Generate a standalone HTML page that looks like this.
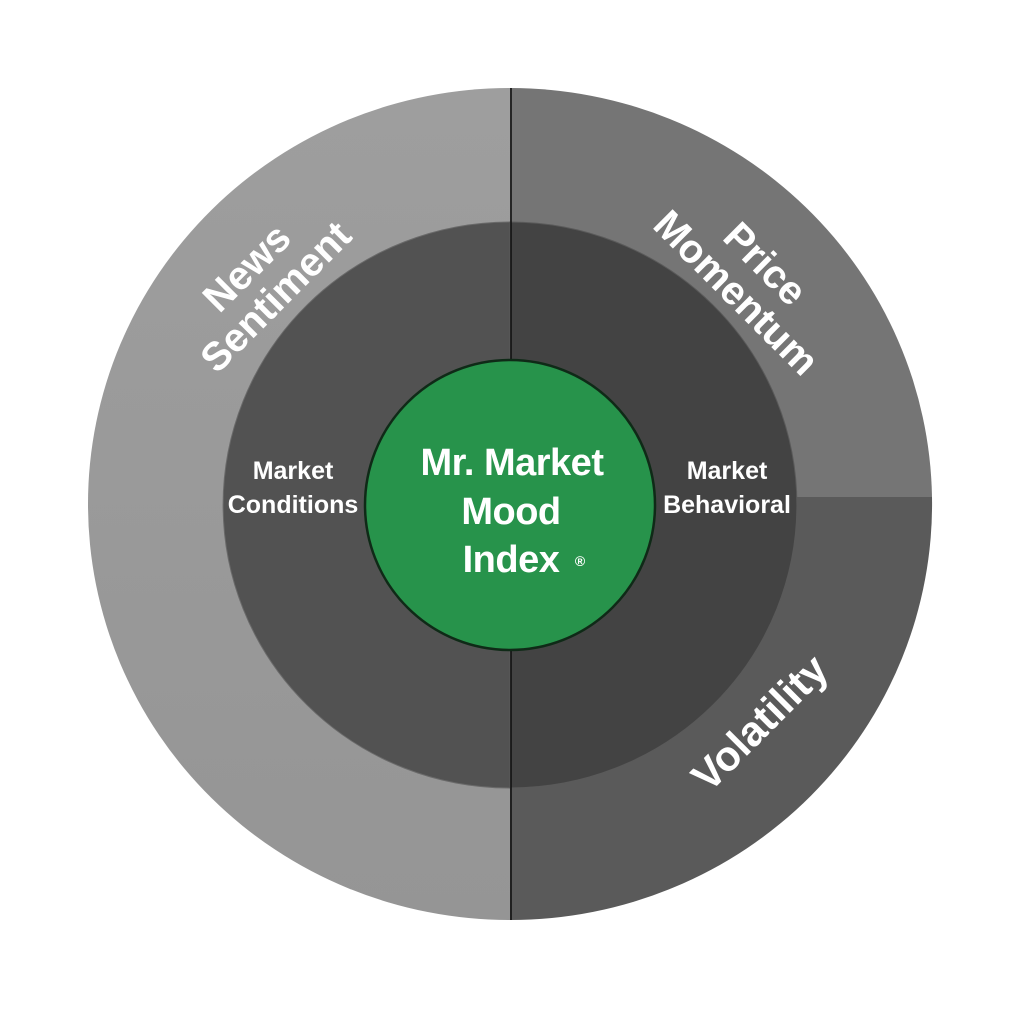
<!DOCTYPE html>
<html><head><meta charset="utf-8"><style>
html,body{margin:0;padding:0;background:#fff;width:1024px;height:1024px;overflow:hidden}
text{font-family:"Liberation Sans","DejaVu Sans",sans-serif;font-weight:bold;fill:#fff}
</style></head><body>
<svg width="1024" height="1024" viewBox="0 0 1024 1024" xmlns="http://www.w3.org/2000/svg">
<defs>
<linearGradient id="gl" x1="0" y1="0" x2="0" y2="1"><stop offset="0" stop-color="#9e9e9e"/><stop offset="1" stop-color="#959595"/></linearGradient>
</defs>
<path d="M510 88 A422 416 0 0 0 510 920 Z" fill="url(#gl)"/>
<path d="M510 88 A422 416 0 0 1 932 497 L510 497 Z" fill="#757575"/>
<path d="M932 497 A422 416 0 0 1 510 920 L510 497 Z" fill="#5a5a5a"/>
<path d="M510 222 A287 283 0 0 0 510 788 Z" fill="#525252" stroke="#6a6a6a" stroke-width="1"/>
<path d="M510 222 A287 283 0 0 1 510 788 Z" fill="#434343" stroke="#5a5a5a" stroke-width="1"/>
<line x1="511" y1="88" x2="511" y2="920" stroke="#111" stroke-width="1.6"/>
<circle cx="510" cy="505" r="145" fill="#27934b" stroke="#0f2a17" stroke-width="2.5"/>
<text x="512" y="475" font-size="38" text-anchor="middle" letter-spacing="-0.5">Mr. Market</text>
<text x="511" y="524" font-size="38" text-anchor="middle" letter-spacing="-0.5">Mood</text>
<text x="511" y="572" font-size="38" text-anchor="middle" letter-spacing="-0.5">Index</text>
<text x="580" y="566" font-size="14" text-anchor="middle">®</text>
<text x="293" y="479" font-size="25" text-anchor="middle">Market</text>
<text x="293" y="513" font-size="25" text-anchor="middle">Conditions</text>
<text x="727" y="479" font-size="25" text-anchor="middle">Market</text>
<text x="727" y="513" font-size="25" text-anchor="middle">Behavioral</text>
<g transform="translate(262 283) rotate(-45)">
<text x="0" y="-8" font-size="40" text-anchor="middle">News</text>
<text x="0" y="33" font-size="40" text-anchor="middle">Sentiment</text>
</g>
<g transform="translate(750 279) rotate(45)">
<text x="0" y="-8" font-size="40" text-anchor="middle">Price</text>
<text x="0" y="33" font-size="40" text-anchor="middle">Momentum</text>
</g>
<g transform="translate(760 723) rotate(-45)">
<text x="0" y="14" font-size="42" text-anchor="middle">Volatility</text>
</g>
</svg>
</body></html>
